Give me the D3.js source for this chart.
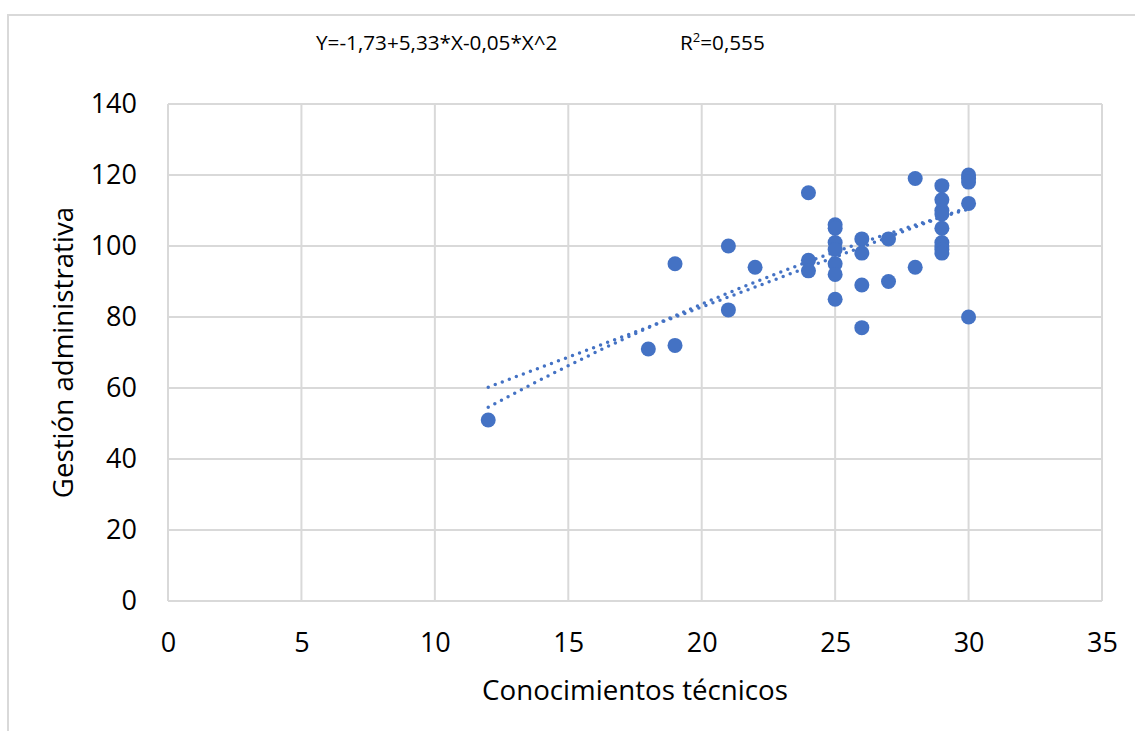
<!DOCTYPE html>
<html>
<head>
<meta charset="utf-8">
<script src="https://cdn.jsdelivr.net/npm/d3@7"></script>
<style>
  body { margin: 0; background: #fff; }
  svg { display: block; font-family: "Open Sans", "Noto Sans", sans-serif; }
</style>
</head>
<body>
<svg></svg>
<script>
var width = 1135;
var height = 731;

// data
var conocimientos = [12, 18, 19, 19, 21, 21, 22, 24, 24, 24,
  25, 25, 25, 25, 25, 25, 25, 26, 26, 26, 26, 27, 27, 28, 28,
  29, 29, 29, 29, 29, 29, 29, 29, 29, 30, 30, 30, 30, 30];
var gestion = [51, 71, 95, 72, 100, 82, 94, 115, 96, 93,
  106, 105, 101, 99, 95, 92, 85, 102, 98, 89, 77, 102, 90, 119, 94,
  117, 113, 110, 109, 105, 101, 100, 99, 98, 120, 119, 118, 112, 80];
var xTicks = [0, 5, 10, 15, 20, 25, 30, 35];
var yTicks = [0, 20, 40, 60, 80, 100, 120, 140];
// trendline coefficients (constant, x, x^2)
var linearCoef = [26.4, 2.82];
var quadCoef = [-1.73, 5.33, -0.0531];
var ecuacion = "Y=-1,73+5,33*X-0,05*X^2";
var r2Label = "0,555";

var margin = { left: 168, right: 33, top: 104, bottom: 130 };
var plotW = width - margin.left - margin.right;
var plotH = height - margin.top - margin.bottom;
var blue = "#4472C4";
var grid = "#d9d9d9";

var svg = d3.select("svg").attr("width", width).attr("height", height);

// outer chart frame
svg.append("rect")
  .attr("x", 8).attr("y", 15)
  .attr("width", width + 20).attr("height", height + 20)
  .attr("fill", "none").attr("stroke", grid).attr("stroke-width", 2);

var x = d3.scaleLinear().domain([0, 35]).range([0, plotW]);
var y = d3.scaleLinear().domain([0, 140]).range([plotH, 0]);

var g = svg.append("g").attr("transform", "translate(" + margin.left + "," + margin.top + ")");

// gridlines
g.append("g").selectAll("line").data(yTicks).enter().append("line")
  .attr("x1", 0).attr("x2", plotW)
  .attr("y1", function (d) { return y(d); }).attr("y2", function (d) { return y(d); })
  .attr("stroke", grid).attr("stroke-width", 2);
g.append("g").selectAll("line").data(xTicks).enter().append("line")
  .attr("y1", 0).attr("y2", plotH)
  .attr("x1", function (d) { return x(d); }).attr("x2", function (d) { return x(d); })
  .attr("stroke", grid).attr("stroke-width", 2);

// axes (labels only)
var xAxis = g.append("g").attr("transform", "translate(0," + plotH + ")")
  .call(d3.axisBottom(x).tickValues(xTicks).tickSize(0).tickPadding(32));
var yAxis = g.append("g")
  .call(d3.axisLeft(y).tickValues(yTicks).tickSize(0).tickPadding(31));
[xAxis, yAxis].forEach(function (a) {
  a.select(".domain").remove();
  a.selectAll("text").attr("font-size", 27).attr("fill", "#000")
    .attr("font-family", "'Open Sans', sans-serif");
});

// trendlines over the range of the data
var xMin = d3.min(conocimientos), xMax = d3.max(conocimientos);
var xs = d3.range(xMin, xMax + 0.001, 0.25);
[linearCoef, quadCoef].forEach(function (coef) {
  var pts = xs.map(function (xv) {
    return [xv, coef.reduce(function (s, c, i) { return s + c * Math.pow(xv, i); }, 0)];
  });
  g.append("path")
    .datum(pts)
    .attr("fill", "none")
    .attr("stroke", blue)
    .attr("stroke-width", 3.5)
    .attr("stroke-linecap", "round")
    .attr("stroke-dasharray", "0 7.5")
    .attr("d", d3.line().x(function (d) { return x(d[0]); }).y(function (d) { return y(d[1]); }));
});

// points
g.append("g").selectAll("circle")
  .data(conocimientos.map(function (xv, i) { return [xv, gestion[i]]; }))
  .enter().append("circle")
  .attr("cx", function (d) { return x(d[0]); })
  .attr("cy", function (d) { return y(d[1]); })
  .attr("r", 7.5)
  .attr("fill", blue);

// axis titles
svg.append("text")
  .attr("x", margin.left + plotW / 2).attr("y", 700)
  .attr("text-anchor", "middle").attr("font-size", 27.7)
  .text("Conocimientos técnicos");
svg.append("text")
  .attr("transform", "translate(73," + (margin.top + plotH / 2) + ") rotate(-90)")
  .attr("text-anchor", "middle").attr("font-size", 27.7)
  .text("Gestión administrativa");

// equation and R²
svg.append("text")
  .attr("x", 316).attr("y", 49.5).attr("font-size", 20.7)
  .text(ecuacion);
var r2 = svg.append("text").attr("x", 680).attr("y", 49.5).attr("font-size", 20.7);
r2.append("tspan").text("R");
r2.append("tspan").attr("font-size", 13).attr("dy", -8).text("2");
r2.append("tspan").attr("dy", 8).text("=" + r2Label);
</script>
</body>
</html>
